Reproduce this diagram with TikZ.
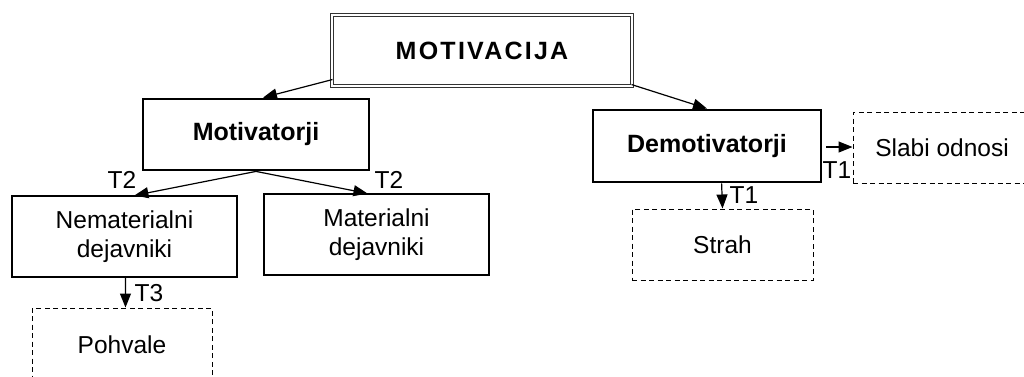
\documentclass[tikz,border=0pt]{standalone}
\usepackage{fontspec}
\setmainfont{Liberation Sans}
\newfontfamily\spacedfont[LetterSpace=9]{Liberation Sans}
\usetikzlibrary{arrows.meta,calc}
\begin{document}
\begin{tikzpicture}[x=1pt,y=-1pt,
  box/.style={draw, line width=1.1pt, rectangle, inner sep=0pt, align=center,
    font=\fontsize{24.5}{29}\selectfont},
  boldbox/.style={box, line width=2.8pt, font=\fontsize{25}{29}\selectfont\bfseries},
  dbox/.style={box, line width=1pt, dash pattern=on 5pt off 3.5pt},
  arr/.style={-{Triangle[length=14pt,width=11pt]}, line width=1.2pt},
  lbl/.style={font=\fontsize{24.5}{29}\selectfont, inner sep=0pt}]
\useasboundingbox (0,0) rectangle (1024,376);
\clip (0,0) rectangle (1024,376);

\node[box, double, double distance=2.4pt, line width=1.1pt, draw=black!80,
  minimum width=300pt, minimum height=71pt,
  font=\fontsize{25}{29}\spacedfont\bfseries] (mot) at (482,50.5) {MOTIVACIJA};

\node[boldbox, minimum width=226pt, minimum height=71pt] (mv) at (256,134.5) {Motivatorji};
\node[boldbox, minimum width=228pt, minimum height=72pt] (dm) at (707,146) {Demotivatorji};

\node[box, minimum width=225pt, minimum height=81pt] (nem) at (124.5,236.5) {Nematerialni\\dejavniki};
\node[box, minimum width=225pt, minimum height=81pt] (mat) at (376.5,234.5) {Materialni\\dejavniki};

\node[dbox, minimum width=180pt, minimum height=74pt] (pohv) at (122,345) {Pohvale};
\node[dbox, minimum width=181pt, minimum height=71pt] (strah) at (722.5,244.5) {Strah};
\node[dbox, minimum width=178pt, minimum height=71pt] (slabi) at (942,147.5) {Slabi odnosi};

\draw[arr] ($(mot.south west)+(1,-7)$) -- ($(mv.north)+(7,0)$);
\draw[arr] ($(mot.south east)+(-1,-2)$) -- (dm.north);
\draw[arr] (mv.south) -- ($(nem.north west)+(123,0)$);
\draw[arr] (mv.south) -- ($(mat.north west)+(104,0)$);
\draw[arr] ($(dm.east)+(4,1)$) -- ($(slabi.west)+(0,-0.5)$);
\draw[arr] ($(dm.south west)+(130,0)$) -- ($(strah.north west)+(91,0)$);
\draw[arr] ($(nem.south west)+(114,0)$) -- ($(pohv.north west)+(94,0)$);

\node[lbl] (t2a) at (122,180) {T2};
\node[lbl] (t2b) at (389,180) {T2};
\node[lbl] (t1a) at (837,170) {T1};
\node[lbl] (t1b) at (744,195) {T1};
\node[lbl] (t3) at (149,293) {T3};
\end{tikzpicture}
\end{document}
